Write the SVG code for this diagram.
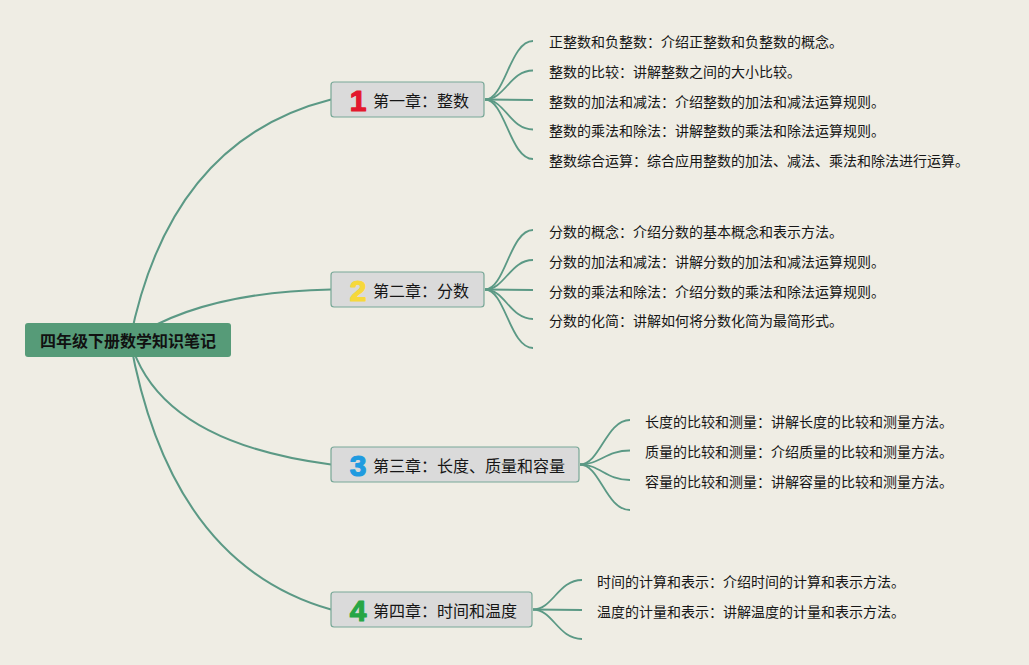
<svg xmlns="http://www.w3.org/2000/svg" width="1029" height="665" viewBox="0 0 1029 665">
<style>
.main{fill:none;stroke:#5b9985;stroke-width:2;}
.leaf{fill:none;stroke:#5b9985;stroke-width:1.8;}
.chap{fill:#dadada;stroke:#78a797;stroke-width:1.2;}
.ct{font-family:"Noto Sans CJK SC","Noto Sans",sans-serif;font-size:16px;fill:#161616;dominant-baseline:central;}
.num{font-family:"Liberation Sans","DejaVu Sans",sans-serif;font-size:30px;font-weight:bold;text-anchor:middle;stroke-width:1.2;stroke-linejoin:round;}
.lt{font-family:"Noto Sans CJK SC","Noto Sans",sans-serif;font-size:14px;fill:#161616;dominant-baseline:central;}
.root{font-family:"Noto Sans CJK SC","Noto Sans",sans-serif;font-size:16px;font-weight:bold;fill:#111111;text-anchor:middle;dominant-baseline:central;}
</style>
<rect width="1029" height="665" fill="#efede4"/>
<g id="connectors">
<path class="main" d="M130,340 Q170,140 331,99.5"/>
<path class="main" d="M130,340 Q200,292 331,289.5"/>
<path class="main" d="M130,340 Q158,442 331,464.5"/>
<path class="main" d="M130,340 Q170,564 331,609.5"/>
<path class="leaf" d="M485,99.5 C505,99.5 510,41 533,41"/>
<path class="leaf" d="M485,99.5 C505,99.5 510,70.5 533,70.5"/>
<path class="leaf" d="M485,99.5 L533,100"/>
<path class="leaf" d="M485,99.5 C505,99.5 510,129.5 533,129.5"/>
<path class="leaf" d="M485,99.5 C505,99.5 510,159 533,159"/>
<path class="leaf" d="M485,289.5 C505,289.5 510,230 533,230"/>
<path class="leaf" d="M485,289.5 C505,289.5 510,260 533,260"/>
<path class="leaf" d="M485,289.5 L533,290"/>
<path class="leaf" d="M485,289.5 C505,289.5 510,319 533,319"/>
<path class="leaf" d="M485,289.5 C505,289.5 510,348 533,348"/>
<path class="leaf" d="M580,464.5 C600,464.5 606,420 630,420"/>
<path class="leaf" d="M580,464.5 C600,464.5 606,450.5 630,450.5"/>
<path class="leaf" d="M580,464.5 C600,464.5 606,480 630,480"/>
<path class="leaf" d="M580,464.5 C600,464.5 606,510 630,510"/>
<path class="leaf" d="M533,609.5 C553,609.5 558,580 582,580"/>
<path class="leaf" d="M533,609.5 L582,610"/>
<path class="leaf" d="M533,609.5 C553,609.5 558,639 582,639"/>
</g>
<g id="root">
<rect x="25" y="323" width="206" height="34" rx="3" fill="#569b78"/>
<text class="root" x="128" y="340">四年级下册数学知识笔记</text>
</g>
<g id="ch1">
<rect class="chap" x="331" y="82" width="153" height="35" rx="3"/>
<text class="num" x="358" y="111" fill="#e3182d" stroke="#e3182d">1</text>
<text class="ct" x="373" y="100">第一章：整数</text>
</g>
<g id="ch2">
<rect class="chap" x="331" y="272" width="153" height="35" rx="3"/>
<text class="num" x="358" y="301" fill="#f6d83c" stroke="#f6d83c">2</text>
<text class="ct" x="373" y="290">第二章：分数</text>
</g>
<g id="ch3">
<rect class="chap" x="331" y="447" width="248" height="35" rx="3"/>
<text class="num" x="358" y="476" fill="#1f9be0" stroke="#1f9be0">3</text>
<text class="ct" x="373" y="465">第三章：长度、质量和容量</text>
</g>
<g id="ch4">
<rect class="chap" x="331" y="592" width="201" height="35" rx="3"/>
<text class="num" x="358" y="621" fill="#27a646" stroke="#27a646">4</text>
<text class="ct" x="373" y="610">第四章：时间和温度</text>
</g>
<g id="ch1-leaves">
<text class="lt" x="549" y="41">正整数和负整数：介绍正整数和负整数的概念。</text>
<text class="lt" x="549" y="71">整数的比较：讲解整数之间的大小比较。</text>
<text class="lt" x="549" y="100.5">整数的加法和减法：介绍整数的加法和减法运算规则。</text>
<text class="lt" x="549" y="130">整数的乘法和除法：讲解整数的乘法和除法运算规则。</text>
<text class="lt" x="549" y="160">整数综合运算：综合应用整数的加法、减法、乘法和除法进行运算。</text>
</g>
<g id="ch2-leaves">
<text class="lt" x="549" y="231">分数的概念：介绍分数的基本概念和表示方法。</text>
<text class="lt" x="549" y="261">分数的加法和减法：讲解分数的加法和减法运算规则。</text>
<text class="lt" x="549" y="291">分数的乘法和除法：介绍分数的乘法和除法运算规则。</text>
<text class="lt" x="549" y="320">分数的化简：讲解如何将分数化简为最简形式。</text>
</g>
<g id="ch3-leaves">
<text class="lt" x="645" y="421">长度的比较和测量：讲解长度的比较和测量方法。</text>
<text class="lt" x="645" y="451">质量的比较和测量：介绍质量的比较和测量方法。</text>
<text class="lt" x="645" y="481">容量的比较和测量：讲解容量的比较和测量方法。</text>
</g>
<g id="ch4-leaves">
<text class="lt" x="597" y="581">时间的计算和表示：介绍时间的计算和表示方法。</text>
<text class="lt" x="597" y="611">温度的计量和表示：讲解温度的计量和表示方法。</text>
</g>
</svg>
